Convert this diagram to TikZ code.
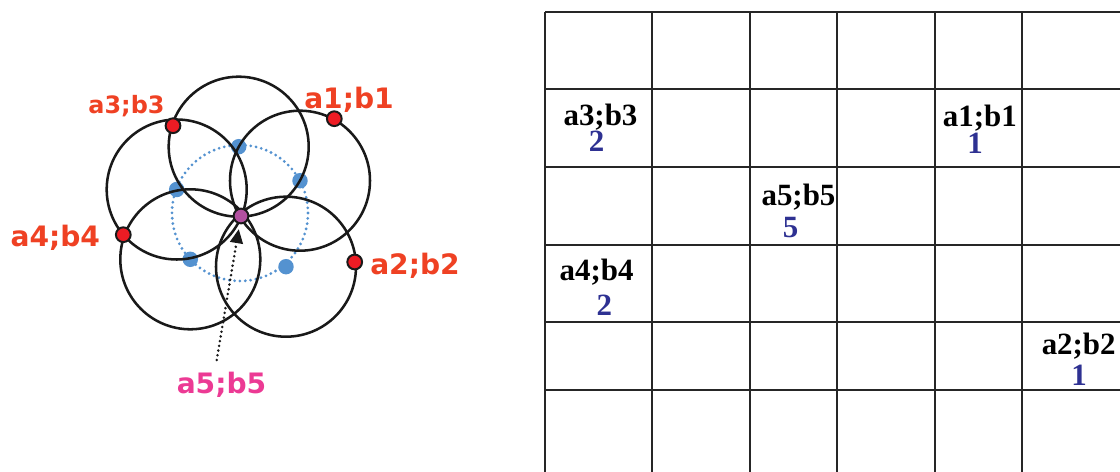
\documentclass[tikz,border=0pt]{standalone}
\usepackage{fontspec}
\usepackage{tikz}
\usepackage{xcolor}
\usetikzlibrary{arrows.meta}
\newfontfamily\labelfont{DejaVu Sans}
\newfontfamily\cellfont{Liberation Serif}
\definecolor{labelred}{RGB}{239,65,35}
\definecolor{dotred}{RGB}{237,28,36}
\definecolor{seedpurple}{RGB}{178,80,160}
\definecolor{labelpink}{RGB}{236,58,148}
\definecolor{ringblue}{RGB}{84,146,208}
\definecolor{countblue}{RGB}{46,49,146}

\begin{document}
\begin{tikzpicture}[x=0.025cm,y=-0.025cm,
  gridline/.style={draw=black!85,line width=1.8pt},
  ring/.style={draw=black!90,line width=1.8pt},
  seedring/.style={draw=ringblue,line width=2.2pt,line cap=round,dash pattern=on 0pt off 3.8pt},
  seeddot/.style={circle,fill=ringblue,inner sep=0pt,minimum size=11pt},
  reddot/.style={circle,draw=black!90,fill=dotred,line width=1.4pt,inner sep=0pt,minimum size=10.5pt},
  purpledot/.style={circle,draw=black!90,fill=seedpurple,line width=1.4pt,inner sep=0pt,minimum size=10.5pt},
  ptlabel/.style={anchor=base,inner sep=0pt,text=labelred,font=\labelfont\bfseries\fontsize{20}{24}\selectfont},
  celllabel/.style={anchor=base,inner sep=0pt,font=\cellfont\bfseries\fontsize{22}{26}\selectfont},
  cellcount/.style={anchor=base,inner sep=0pt,text=countblue,font=\cellfont\bfseries\fontsize{22}{26}\selectfont},
  pointer/.style={draw=black!90,line width=2pt,line cap=round,dash pattern=on 0pt off 3.4pt,
    -{Triangle[length=10pt,width=9pt]},shorten >=3.5pt}]
\useasboundingbox (0,0) rectangle (1120,472);

% grid on the right
\foreach \gy in {12,89,167,245,322,390}
  \draw[gridline] (545,\gy) -- (1120,\gy);
\foreach \gx in {545,652,750,837,935,1022}
  \draw[gridline] (\gx,12) -- (\gx,472);

% cell contents
\node[celllabel] (g3) at (600.5,126) {a3;b3};
\node[cellcount] (n3) at (596.5,152) {2};
\node[celllabel] (g1) at (979.8,126.7) {a1;b1};
\node[cellcount] (n1) at (975,154) {1};
\node[celllabel] (g5) at (798.5,206) {a5;b5};
\node[cellcount] (n5) at (790.7,237.3) {5};
\node[celllabel] (g4) at (596.7,280) {a4;b4};
\node[cellcount] (n4) at (604.4,315) {2};
\node[celllabel] (g2) at (1078.7,354) {a2;b2};
\node[cellcount] (n2) at (1079,385) {1};

% dotted ring of centres
\draw[seedring] (240,213) circle (68);
\node[seeddot] (c1) at (238.7,146.7) {};
\node[seeddot] (c2) at (300,180.7) {};
\node[seeddot] (c3) at (286,266.7) {};
\node[seeddot] (c4) at (190.3,259.3) {};
\node[seeddot] (c5) at (176.7,189.5) {};

% circles
\foreach \c in {c1,c2,c3,c4,c5}
  \draw[ring] (\c.center) circle (70);

% points
\node[reddot] (p1) at (334.3,118.7) {};
\node[reddot] (p2) at (354.7,262) {};
\node[reddot] (p3) at (173,125.7) {};
\node[reddot] (p4) at (123.3,234.7) {};
\node[purpledot] (p5) at (241,216) {};

% point labels
\node[ptlabel] (l1) at (349,108.5) {a1;b1};
\node[ptlabel] (l2) at (415,274.7) {a2;b2};
\node[ptlabel,font=\labelfont\bfseries\fontsize{17}{20}\selectfont] (l3) at (126.5,114) {a3;b3};
\node[ptlabel] (l4) at (55.3,246.5) {a4;b4};
\node[ptlabel,text=labelpink] (l5) at (221.5,393) {a5;b5};

\coordinate (tail) at (216.7,360);
\draw[pointer] (tail) -- (p5);
\end{tikzpicture}
\end{document}
